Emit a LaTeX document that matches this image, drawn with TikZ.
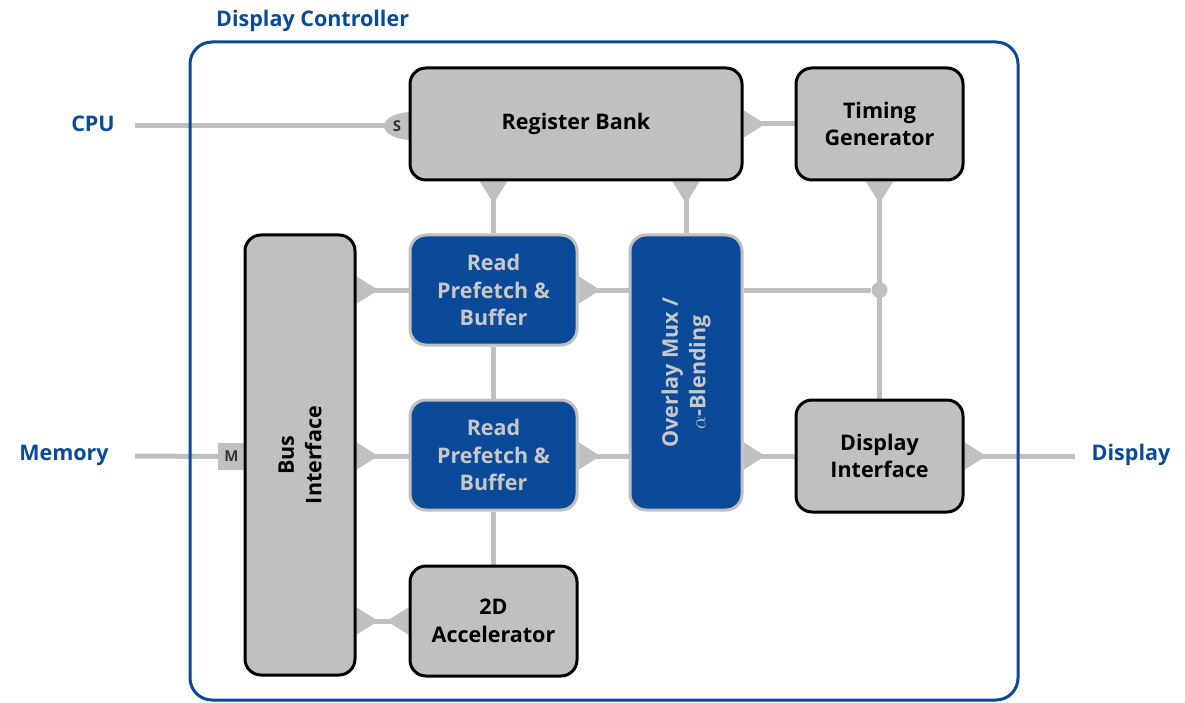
\documentclass[tikz,border=0pt]{standalone}
\usepackage{fontspec}
\setmainfont{Open Sans}
\usetikzlibrary{arrows.meta,backgrounds,calc,shapes.geometric}
\definecolor{dcblue}{HTML}{0B4A99}
\definecolor{dcgray}{HTML}{C0C0C0}
\definecolor{dctext}{HTML}{C8C8C8}
\definecolor{dcdark}{HTML}{333333}
\begin{document}
\begin{tikzpicture}[x=1pt,y=-1pt,
  every node/.style={font=\bfseries\fontsize{21.5}{27.5}\selectfont},
  gbox/.style={draw=black,line width=3pt,fill=dcgray,rounded corners=16pt,align=center,inner sep=0pt},
  bbox/.style={draw=dcgray,line width=3pt,fill=dcblue,text=dctext,rounded corners=16pt,align=center,inner sep=0pt},
  conn/.style={draw=dcgray,line width=5pt},
  flare/.style={{Triangle[reversed,length=22pt,width=26pt]}-},
  flare2/.style={{Triangle[reversed,length=22pt,width=26pt]}-{Triangle[reversed,length=22pt,width=26pt]}},
  extlabel/.style={text=dcblue,inner sep=0pt},
  tab/.style={fill=dcgray,text=dcdark,inner sep=0pt,font=\bfseries\fontsize{15}{17}\selectfont},
  jdot/.style={circle,fill=dcgray,minimum size=16pt,inner sep=0pt}
]
\useasboundingbox (0,0) rectangle (1185,703);
% container
\draw[dcblue,line width=3pt,rounded corners=22pt] (190,42) rectangle (1018,700);
\node[extlabel,anchor=west] (title) at (216,21) {Display Controller};

% tabs (behind boxes)
\node[tab,ellipse,minimum width=56pt,minimum height=28pt] (s) at (412,126) {};
\node[tab] (slbl) at (397,126) {S};
\node[tab,minimum width=27pt,minimum height=27pt] (m) at (231.5,456.5) {M};

% boxes
\node[gbox,minimum width=332,minimum height=112] (rb) at (576,124) {Register Bank};
\node[gbox,minimum width=167,minimum height=112] (tg) at (879.5,124) {Timing\\Generator};
\node[gbox,minimum width=110,minimum height=440] (bi) at (300,455) {};
\node[rotate=90,align=center] (bil) at (bi) {Bus\\Interface};
\node[bbox,minimum width=167,minimum height=110] (rp1) at (493.5,290) {Read\\Prefetch \&\\Buffer};
\node[bbox,minimum width=167,minimum height=110] (rp2) at (493.5,455) {Read\\Prefetch \&\\Buffer};
\node[bbox,minimum width=112,minimum height=275] (om) at (686,372.5) {};
\node[rotate=90,align=center,text=dctext] (oml) at (om) {Overlay Mux /\\$\alpha$-Blending};
\node[gbox,minimum width=167,minimum height=112] (di) at (879.5,456) {Display\\Interface};
\node[gbox,minimum width=167,minimum height=110] (acc) at (493.5,621) {2D\\Accelerator};

% external labels
\node[extlabel] (cpu) at (93,124) {CPU};
\node[extlabel] (mem) at (64,455) {Memory};
\node[extlabel] (disp) at (1131,455) {Display};
\coordinate (cpuend) at (135,126);
\coordinate (memend) at (135,456);
\coordinate (dispend) at (1075,456);

\node[jdot] (j) at (tg.south |- rp1) {};

\begin{scope}[on background layer]
  \draw[conn] (cpuend) -- (s.center);
  \draw[conn] (memend) -- (m.west);
  \draw[conn,flare] (rb.east |- tg) -- (tg.west);
  \draw[conn,flare] (rb.south -| rp1) -- (rp1.north);
  \draw[conn,flare] (rb.south -| om) -- (om.north);
  \draw[conn,flare] (tg.south) -- (di.north);
  \draw[conn] (om.east |- rp1) -- (j);
  \draw[conn,flare] (bi.east |- rp1) -- (rp1.west);
  \draw[conn,flare] (bi.east |- di) -- (rp2.west |- di);
  \draw[conn,flare] (rp1.east) -- (om.west |- rp1);
  \draw[conn,flare] (rp2.east |- di) -- (om.west |- di);
  \draw[conn] (rp1.south) -- (rp2.north);
  \draw[conn] (rp2.south) -- (acc.north);
  \draw[conn,flare2] (bi.east |- acc) -- (acc.west);
  \draw[conn,flare] (om.east |- di) -- (di.west);
  \draw[conn,flare] (di.east) -- (dispend);
\end{scope}
\end{tikzpicture}
\end{document}
